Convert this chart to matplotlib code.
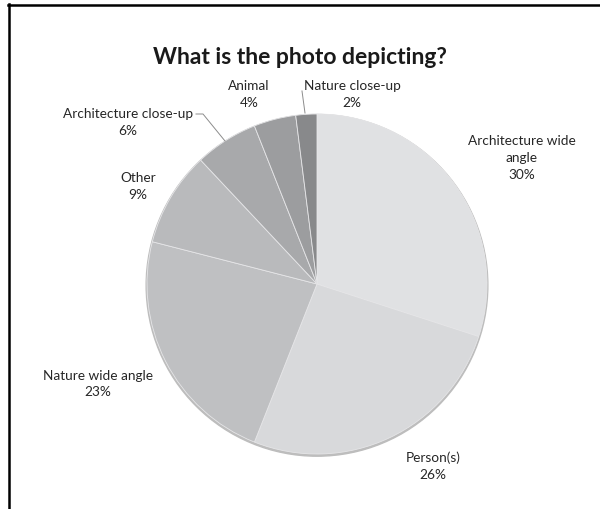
import numpy as np
import matplotlib.pyplot as plt
from matplotlib.lines import Line2D

plt.rcParams['font.family'] = ['Lato', 'DejaVu Sans']

# Data (clockwise from 12 o'clock)
categories = ['Architecture wide\nangle', 'Person(s)', 'Nature wide angle', 'Other',
              'Architecture close-up', 'Animal', 'Nature close-up']
values = [30, 26, 23, 9, 6, 4, 2]
colors = ['#e0e1e3', '#d8d9db', '#bfc0c2', '#b9babc', '#a8a9ab', '#9c9d9f', '#88898b']

W, H = 600, 510
fig = plt.figure(figsize=(6, 5.1), dpi=100)

# pie centre / radius in pixels
cx, cy, r = 317, 285, 170
ax = fig.add_axes([(cx - r) / W, (H - cy - r) / H, 2 * r / W, 2 * r / H])


def px(x, y):
    # pixel (from top-left) -> data coords
    return (x - cx) / r, (cy - y) / r


# soft shadow
shadow = plt.Circle((0.0, -0.008), 1.005, color='#bdbdbd', zorder=0, clip_on=False)
ax.add_patch(shadow)

wedges, _ = ax.pie(values, colors=colors, startangle=90, counterclock=False,
                   radius=1, wedgeprops=dict(edgecolor='#e6e6e8', linewidth=0.6))
for w in wedges:
    w.set_zorder(1)
    w.set_clip_on(False)

# pie() resets the limits, so fix them afterwards
ax.set_xlim(-1, 1)
ax.set_ylim(-1, 1)
ax.axis('off')

# label centres (x, y in pixels)
label_pos = [(522, 158), (433, 466), (98, 384), (138, 186), (128, 122), (249, 94), (352, 94)]
for name, v, (lx, ly) in zip(categories, values, label_pos):
    x, y = px(lx, ly)
    ax.text(x, y, f'{name}\n{v}%', ha='center', va='center', fontsize=9.8,
            color='#262626', linespacing=1.5, clip_on=False)

# leader lines
for pts in [[(196, 115), (203, 115), (225, 142)], [(302, 92), (305, 114)]]:
    xs, ys = zip(*[px(a, b) for a, b in pts])
    ax.plot(xs, ys, color='#8c8c8c', linewidth=0.7, clip_on=False, zorder=3)

fig.text(0.5, 1 - 57 / H, 'What is the photo depicting?', ha='center', va='center',
         fontsize=16.5, fontweight='bold', color='#1a1a1a')

# outer frame (top and left edges)
fig.add_artist(Line2D([8 / W, 1], [1 - 6 / H, 1 - 6 / H], color='black', linewidth=1.8))
fig.add_artist(Line2D([9 / W, 9 / W], [1 - 5 / H, 0], color='black', linewidth=1.8))

fig.savefig('out.png', dpi=100, facecolor='white')
